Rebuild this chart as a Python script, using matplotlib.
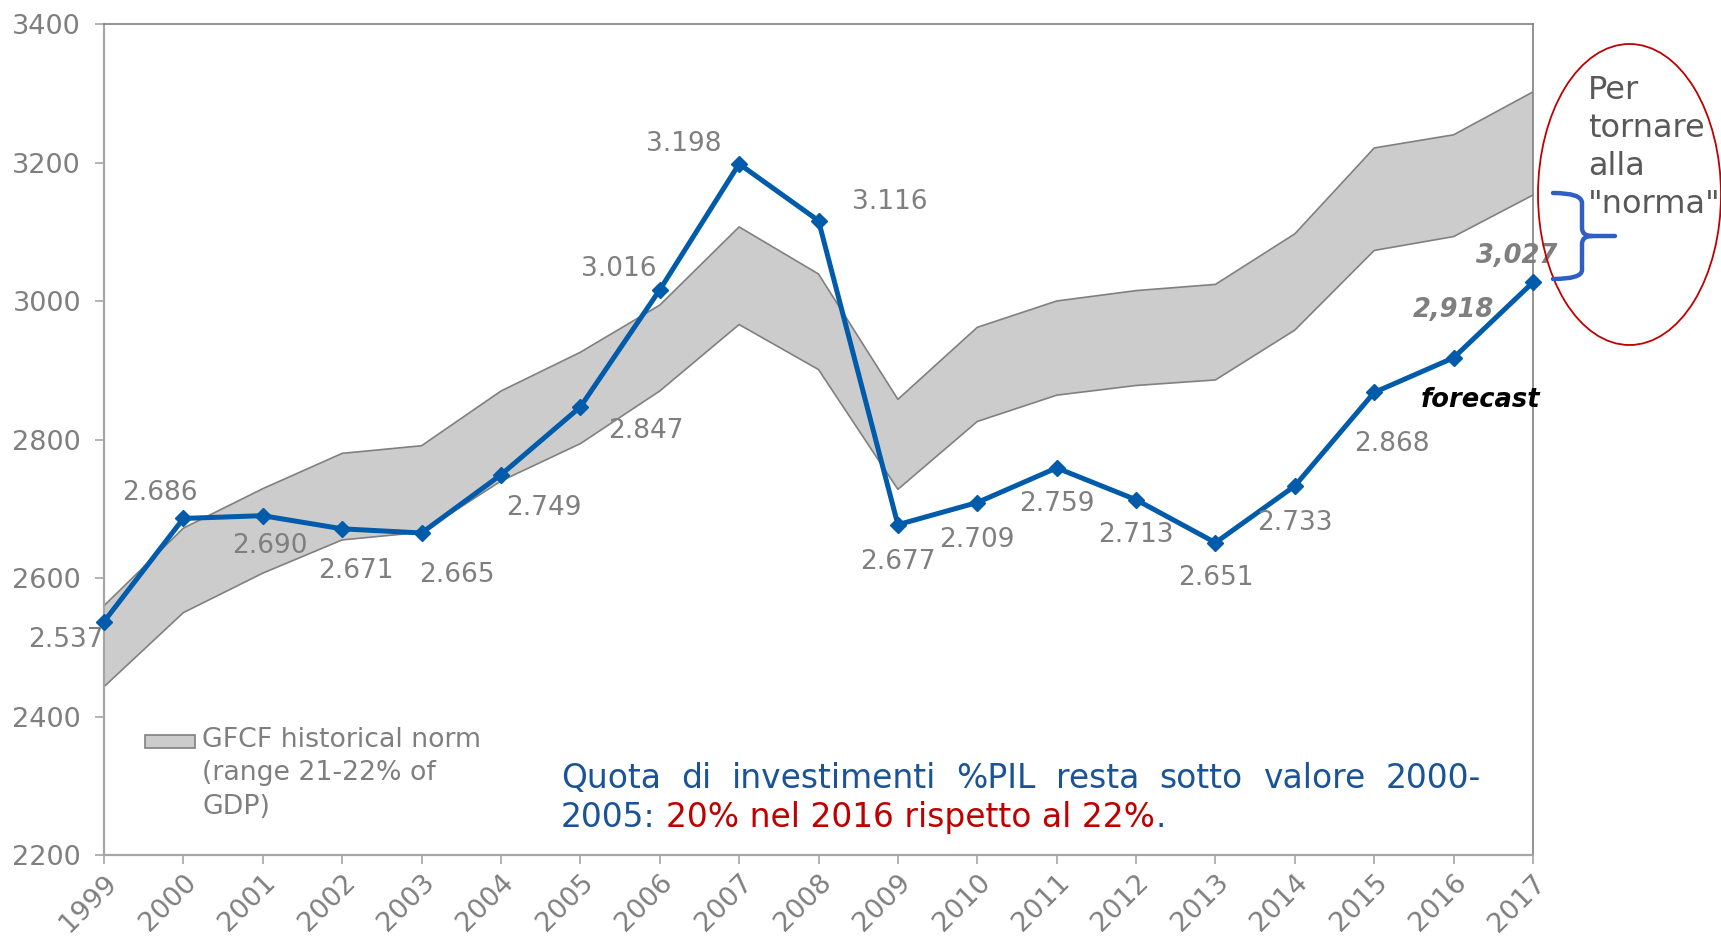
import matplotlib
matplotlib.use('Agg')
import matplotlib.pyplot as plt
from matplotlib.patches import Ellipse, Rectangle, PathPatch
from matplotlib.path import Path

# ---------------- data ----------------
years = [str(y) for y in range(1999, 2018)]
gfcf = [2537, 2686, 2690, 2671, 2665, 2749, 2847, 3016, 3198, 3116,
        2677, 2709, 2759, 2713, 2651, 2733, 2868, 2918, 3027]
norm_upper = [2560, 2672, 2729, 2780, 2791, 2870, 2926, 2994, 3107, 3039,
              2858, 2962, 3000, 3015, 3024, 3097, 3221, 3240, 3302]
norm_lower = [2443, 2550, 2607, 2655, 2666, 2740, 2794, 2870, 2966, 2901,
              2728, 2826, 2864, 2878, 2886, 2958, 3073, 3093, 3153]
point_labels = ['2.537', '2.686', '2.690', '2.671', '2.665', '2.749', '2.847',
                '3.016', '3.198', '3.116', '2.677', '2.709', '2.759', '2.713',
                '2.651', '2.733', '2.868', '2,918', '3,027']
forecast_labels = ['2,918', '3,027']
yticks = [2200, 2400, 2600, 2800, 3000, 3200, 3400]
legend_label = "GFCF historical norm\n(range 21-22% of\nGDP)"
note_line1 = "Quota di investimenti %PIL resta sotto valore 2000-"
note_line2_a = "2005:"
note_line2_b = "20% nel 2016 rispetto al 22%"
side_note = 'Per\ntornare\nalla\n"norma"'

# label offsets in pixels (dx right, dy down)
label_offsets = [(-38, 18), (-24, -25), (7, 30), (14, 42), (35, 42), (43, 33),
                 (66, 24), (-41, -21), (-55, -20), (71, -19), (0, 37), (0, 37),
                 (0, 36), (0, 35), (0, 35), (0, 37), (18, 52), (0, -48), (-16, -26)]

W, H = 1721, 939
fig = plt.figure(figsize=(W / 100, H / 100), dpi=100)
fig.patch.set_facecolor('white')

def fx(x):
    return x / W

def fy(y):
    return 1 - y / H

ax = fig.add_axes([fx(104), fy(855), (1533 - 104) / W, (855 - 24) / H])
xs = list(range(len(years)))

GRAY_TXT = '#7f7f7f'
BLUE = '#005bab'

ax.fill_between(xs, norm_lower, norm_upper, facecolor='#cccccc',
                edgecolor='none', zorder=1)
ax.plot(xs, norm_upper, color='#808080', lw=1.2, zorder=2)
ax.plot(xs, norm_lower, color='#808080', lw=1.2, zorder=2)
ax.plot(xs, gfcf, color=BLUE, lw=3.6, marker='D', markersize=8,
        markeredgecolor=BLUE, markerfacecolor=BLUE, zorder=4, clip_on=False)

for i, (lab, (dx, dy)) in enumerate(zip(point_labels, label_offsets)):
    forecast = lab in forecast_labels
    ax.annotate(lab, (xs[i], gfcf[i]), xytext=(dx * 0.72, -dy * 0.72),
                textcoords='offset points', ha='center', va='center',
                fontsize=18.5 if forecast else 19, color=GRAY_TXT,
                fontweight='bold' if forecast else 'normal',
                fontstyle='italic' if forecast else 'normal',
                zorder=5, annotation_clip=False)

ax.set_xlim(0, len(years) - 1)
ax.set_ylim(2200, 3400)
ax.set_yticks(yticks)
ax.set_yticklabels([str(v) for v in yticks])
ax.set_xticks(xs)
ax.set_xticklabels(years, rotation=45, ha='right', va='top',
                   rotation_mode='anchor')

for s in ['left', 'bottom']:
    ax.spines[s].set_color('#a6a6a6')
    ax.spines[s].set_linewidth(1.6)
for s in ['top', 'right']:
    ax.spines[s].set_color('#808080')
    ax.spines[s].set_linewidth(1.2)

ax.tick_params(axis='both', direction='out', length=6.5, width=1.2,
               color='#a6a6a6', labelcolor=GRAY_TXT, labelsize=19.5)
ax.tick_params(axis='y', pad=10)
ax.tick_params(axis='x', pad=4)

# forecast label
fig.text(fx(1480), fy(400), 'forecast', ha='center', va='center',
         fontsize=18.5, fontweight='bold', fontstyle='italic', color='black')

# legend (manual)
fig.add_artist(Rectangle((fx(145), fy(748)), (195 - 145) / W, 13 / H,
                         transform=fig.transFigure, facecolor='#cccccc',
                         edgecolor='#808080', lw=1.2))
fig.text(fx(202), fy(727), legend_label, ha='left', va='top', fontsize=19.3,
         color=GRAY_TXT, linespacing=1.37)

# justified note text
renderer = fig.canvas.get_renderer()
NOTE_BLUE = '#1a5496'
NOTE_RED = '#c00000'
x0, x1 = 561, 1481
line2_full = note_line2_a + ' ' + note_line2_b + '.'
probe = fig.text(0, 0, line2_full, fontsize=20)
NOTE_FS = 20 * 603 / probe.get_window_extent(renderer).width
probe.remove()

words = note_line1.split()
wtexts = [fig.text(0, fy(788), w, fontsize=NOTE_FS, color=NOTE_BLUE,
                   ha='left', va='baseline') for w in words]
widths = [t.get_window_extent(renderer).width for t in wtexts]
gap = (x1 - x0 - sum(widths)) / (len(words) - 1)
xcur = x0
for t, wd in zip(wtexts, widths):
    t.set_x(fx(xcur))
    xcur += wd + gap

t_a = fig.text(fx(x0), fy(827), note_line2_a, fontsize=NOTE_FS,
               color=NOTE_BLUE, ha='left', va='baseline')
wa = t_a.get_window_extent(renderer).width
tmp1 = fig.text(0, 0, 'a a', fontsize=NOTE_FS)
tmp2 = fig.text(0, 0, 'aa', fontsize=NOTE_FS)
space = tmp1.get_window_extent(renderer).width - tmp2.get_window_extent(renderer).width
tmp1.remove(); tmp2.remove()
t_b = fig.text(fx(x0 + wa + space), fy(827), note_line2_b, fontsize=NOTE_FS,
               color=NOTE_RED, ha='left', va='baseline')
wb = t_b.get_window_extent(renderer).width
fig.text(fx(x0 + wa + space + wb), fy(827), '.', fontsize=NOTE_FS,
         color=NOTE_BLUE, ha='left', va='baseline')

# red ellipse
fig.add_artist(Ellipse((fx(1629.5), fy(194.5)), 183 / W, 301 / H,
                       transform=fig.transFigure, fill=False,
                       edgecolor='#c00000', lw=1.3))
fig.text(fx(1588), fy(75), side_note, ha='left', va='top', fontsize=23,
         color='#595959', linespacing=1.29)

# blue brace
pts = [(1553, 193), (1582, 193), (1582, 203),
       (1582, 228),
       (1582, 236), (1592, 236),
       (1615, 236),
       (1592, 236),
       (1582, 236), (1582, 244),
       (1582, 270),
       (1582, 279), (1553, 279)]
codes = [Path.MOVETO, Path.CURVE3, Path.CURVE3,
         Path.LINETO,
         Path.CURVE3, Path.CURVE3,
         Path.LINETO,
         Path.MOVETO,
         Path.CURVE3, Path.CURVE3,
         Path.LINETO,
         Path.CURVE3, Path.CURVE3]
brace = Path([(fx(x), fy(y)) for x, y in pts], codes)
fig.add_artist(PathPatch(brace, transform=fig.transFigure, fill=False,
                         edgecolor='#2f5fc4', lw=3.2, capstyle='round',
                         joinstyle='round'))

fig.savefig('out.png', dpi=100)
